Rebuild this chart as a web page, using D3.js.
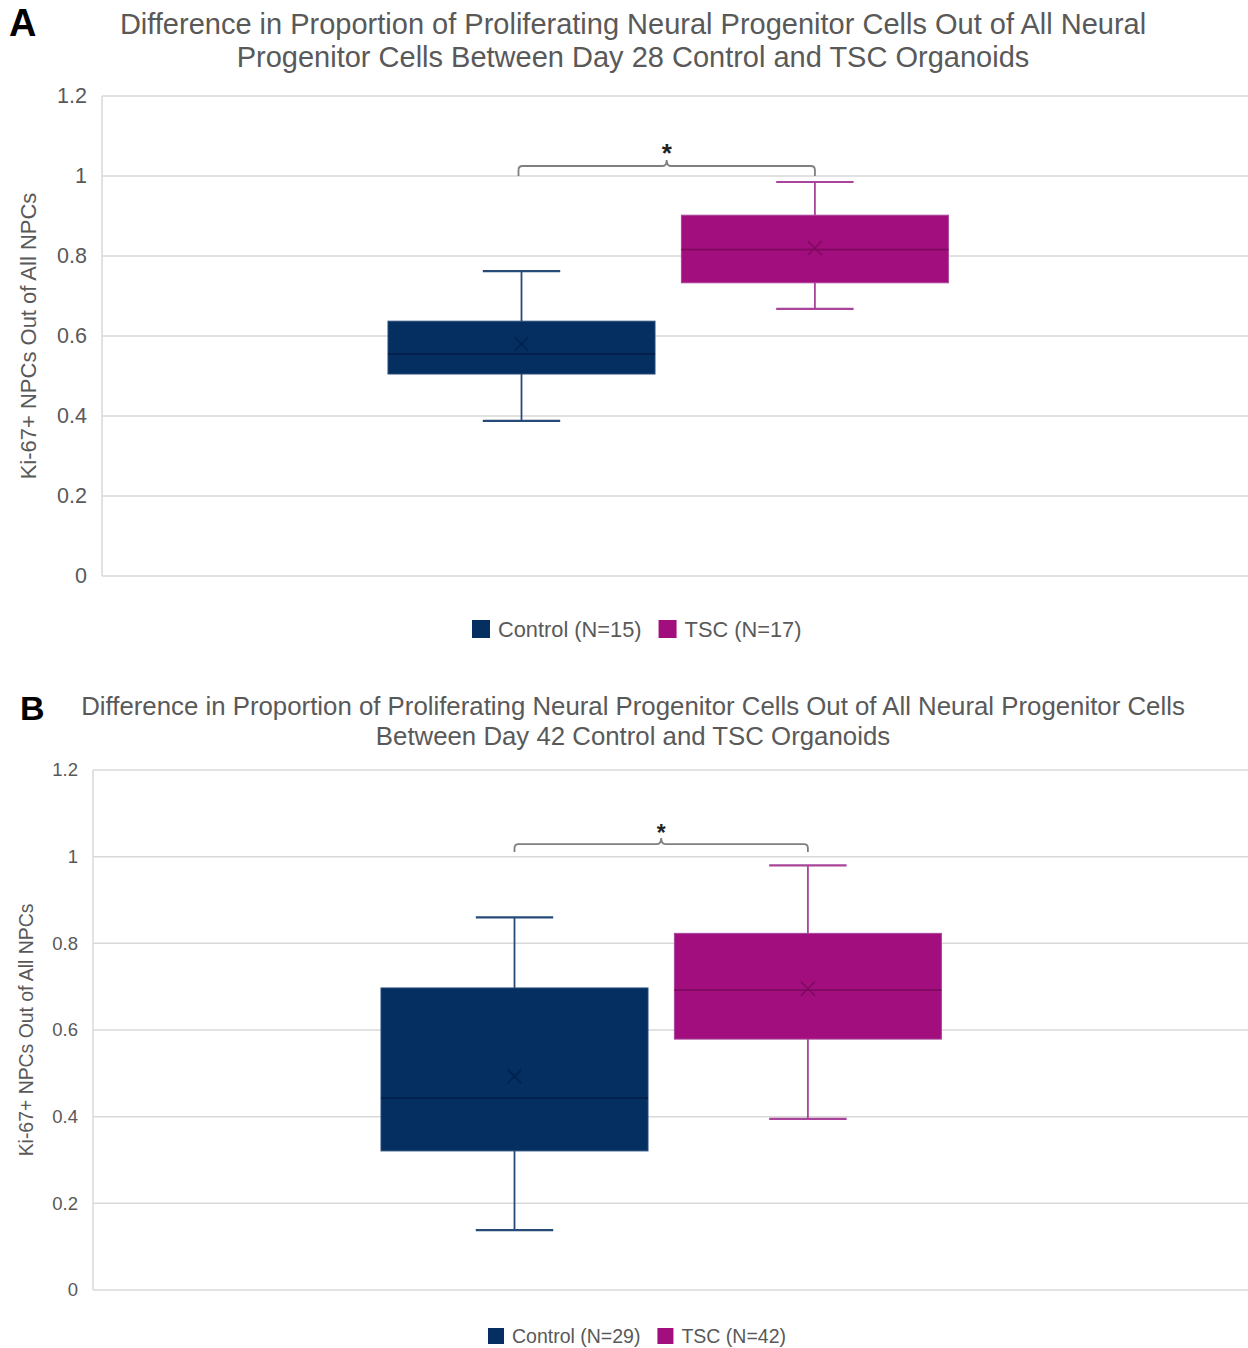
<!DOCTYPE html>
<html>
<head>
  <meta charset="utf-8">
  <title>Ki-67+ NPCs - Day 28 / Day 42</title>
  <script src="https://d3js.org/d3.v7.min.js"></script>
  <style>
    body { margin: 0; background: #fff; }
    text { font-family: "Liberation Sans", Arial, sans-serif; }
  </style>
</head>
<body>
  <script>
    // series shared by both panels
    var groups = ['Control', 'TSC'];
    var yTicks = [0, 0.2, 0.4, 0.6, 0.8, 1, 1.2];

    // Day 28 (panel A): min, q1, median, q3, max, mean
    var day28Min = [0.388, 0.668];
    var day28Q1 = [0.505, 0.733];
    var day28Median = [0.555, 0.816];
    var day28Q3 = [0.637, 0.902];
    var day28Max = [0.762, 0.985];
    var day28Mean = [0.580, 0.820];
    var day28N = [15, 17];

    // Day 42 (panel B)
    var day42Min = [0.138, 0.395];
    var day42Q1 = [0.321, 0.579];
    var day42Median = [0.443, 0.692];
    var day42Q3 = [0.697, 0.823];
    var day42Max = [0.860, 0.980];
    var day42Mean = [0.493, 0.695];
    var day42N = [29, 42];

    var fills = { Control: '#052f60', TSC: '#a20e7e' };
    var whiskerCol = { Control: '#274b78', TSC: '#a8449a' };
    var medianCol = { Control: '#03214a', TSC: '#7e0a5f' };

    var svg = d3.select('body').append('svg')
      .attr('width', 1248)
      .attr('height', 1348);

    function drawPanel(opt) {
      var g = svg.append('g');
      var y = d3.scaleLinear().domain([0, 1.2]).range([opt.bottom, opt.top]);
      var x = d3.scaleBand().domain(groups)
        .range([opt.boxLeft, opt.boxRight])
        .paddingInner(0.09).paddingOuter(0);

      // gridlines
      g.append('g').selectAll('line').data(yTicks).join('line')
        .attr('x1', opt.left).attr('x2', opt.right)
        .attr('y1', function(d) { return y(d); })
        .attr('y2', function(d) { return y(d); })
        .attr('stroke', '#d9d9d9').attr('stroke-width', 1.5);
      g.append('line')
        .attr('x1', opt.left).attr('x2', opt.left)
        .attr('y1', opt.top).attr('y2', opt.bottom)
        .attr('stroke', '#d9d9d9').attr('stroke-width', 1.5);

      // y axis labels via d3 axis
      var axis = g.append('g')
        .attr('transform', 'translate(' + opt.left + ',0)')
        .call(d3.axisLeft(y).tickValues(yTicks).tickSize(0).tickPadding(opt.tickPad)
          .tickFormat(function(d) { return String(d); }));
      axis.select('.domain').remove();
      axis.selectAll('text')
        .attr('fill', '#595959')
        .style('font-size', opt.tickSize + 'px')
        .style('font-family', '"Liberation Sans", Arial, sans-serif');

      // axis title
      g.append('text')
        .attr('transform', 'translate(' + opt.axisTitleX + ',' + ((opt.top + opt.bottom) / 2) + ') rotate(-90)')
        .attr('text-anchor', 'middle')
        .attr('fill', '#595959')
        .style('font-size', opt.axisTitleSize + 'px')
        .text('Ki-67+ NPCs Out of All NPCs');

      // boxes
      var cap = x.bandwidth() * 0.29;
      groups.forEach(function(k, i) {
        var cx = x(k) + x.bandwidth() / 2;
        var bg = g.append('g');
        bg.append('line')
          .attr('x1', cx).attr('x2', cx)
          .attr('y1', y(opt.max[i])).attr('y2', y(opt.q3[i]))
          .attr('stroke', whiskerCol[k]).attr('stroke-width', 1.8);
        bg.append('line')
          .attr('x1', cx).attr('x2', cx)
          .attr('y1', y(opt.q1[i])).attr('y2', y(opt.min[i]))
          .attr('stroke', whiskerCol[k]).attr('stroke-width', 1.8);
        [opt.max[i], opt.min[i]].forEach(function(v) {
          bg.append('line')
            .attr('x1', cx - cap / 2).attr('x2', cx + cap / 2)
            .attr('y1', y(v)).attr('y2', y(v))
            .attr('stroke', whiskerCol[k]).attr('stroke-width', 2.2);
        });
        bg.append('rect')
          .attr('x', x(k)).attr('width', x.bandwidth())
          .attr('y', y(opt.q3[i])).attr('height', y(opt.q1[i]) - y(opt.q3[i]))
          .attr('fill', fills[k])
          .attr('stroke', whiskerCol[k]).attr('stroke-width', 1);
        bg.append('line')
          .attr('x1', x(k)).attr('x2', x(k) + x.bandwidth())
          .attr('y1', y(opt.median[i])).attr('y2', y(opt.median[i]))
          .attr('stroke', medianCol[k]).attr('stroke-width', 1.8);
        var m = y(opt.mean[i]), s = 7;
        bg.append('path')
          .attr('d', 'M' + (cx - s) + ',' + (m - s) + 'L' + (cx + s) + ',' + (m + s) +
                     'M' + (cx - s) + ',' + (m + s) + 'L' + (cx + s) + ',' + (m - s))
          .attr('stroke', medianCol[k]).attr('stroke-width', 1.5).attr('fill', 'none');
      });

      // significance bracket
      var c0 = x('Control') + x.bandwidth() / 2 - opt.bracketShift;
      var c1 = x('TSC') + x.bandwidth() / 2;
      var by = y(opt.bracketAt), mid = (c0 + c1) / 2, r = 4;
      g.append('path')
        .attr('d', 'M' + c0 + ',' + (by + opt.bracketDrop) +
          'L' + c0 + ',' + (by + r) + 'Q' + c0 + ',' + by + ' ' + (c0 + r) + ',' + by +
          'L' + (mid - r) + ',' + by + 'Q' + mid + ',' + by + ' ' + mid + ',' + (by - r * 1.5) +
          'Q' + mid + ',' + by + ' ' + (mid + r) + ',' + by +
          'L' + (c1 - r) + ',' + by + 'Q' + c1 + ',' + by + ' ' + c1 + ',' + (by + r) +
          'L' + c1 + ',' + (by + opt.bracketDrop))
        .attr('fill', 'none').attr('stroke', '#7f7f7f').attr('stroke-width', 1.8);
      g.append('text')
        .attr('x', mid).attr('y', by - opt.starGap)
        .attr('text-anchor', 'middle')
        .attr('fill', '#222')
        .attr('font-weight', 'bold')
        .style('font-size', opt.starSize + 'px')
        .text('*');

      // title
      var t = g.append('text')
        .attr('text-anchor', 'middle')
        .attr('fill', '#595959')
        .style('font-size', opt.titleSize + 'px');
      opt.title.forEach(function(line, i) {
        t.append('tspan').attr('x', opt.titleX).attr('y', opt.titleY + i * opt.titleLead).text(line);
      });

      // panel letter
      g.append('text')
        .attr('x', opt.letterX).attr('y', opt.letterY)
        .attr('font-weight', 'bold')
        .attr('fill', '#000')
        .style('font-size', opt.letterSize + 'px')
        .text(opt.letter);

      // legend
      var lg = g.append('g');
      var lx = opt.legendX;
      groups.forEach(function(k, i) {
        lg.append('rect')
          .attr('x', lx).attr('y', opt.legendY - opt.sq / 2)
          .attr('width', opt.sq).attr('height', opt.sq)
          .attr('fill', fills[k]);
        var txt = lg.append('text')
          .attr('x', lx + opt.sq + 8).attr('y', opt.legendY)
          .attr('dy', '0.35em')
          .attr('fill', '#595959')
          .style('font-size', opt.legendSize + 'px')
          .text(k + ' (N=' + opt.n[i] + ')');
        lx += opt.sq + 8 + txt.node().getComputedTextLength() + 17;
      });
    }

    drawPanel({
      letter: 'A', letterX: 9, letterY: 36, letterSize: 38,
      title: ['Difference in Proportion of Proliferating Neural Progenitor Cells Out of All Neural',
              'Progenitor Cells Between Day 28 Control and TSC Organoids'],
      titleX: 633, titleY: 34, titleLead: 33, titleSize: 29,
      top: 96, bottom: 576, left: 102, right: 1248,
      boxLeft: 388, boxRight: 948.4,
      tickPad: 15, tickSize: 21.5, axisTitleX: 36, axisTitleSize: 22,
      min: day28Min, q1: day28Q1, median: day28Median, q3: day28Q3, max: day28Max, mean: day28Mean,
      n: day28N,
      bracketAt: 1.025, bracketDrop: 10, bracketShift: 3, starGap: 4, starSize: 26,
      legendX: 472, legendY: 629, sq: 18, legendSize: 21.8
    });

    drawPanel({
      letter: 'B', letterX: 20, letterY: 720, letterSize: 34,
      title: ['Difference in Proportion of Proliferating Neural Progenitor Cells Out of All Neural Progenitor Cells',
              'Between Day 42 Control and TSC Organoids'],
      titleX: 633, titleY: 715, titleLead: 30, titleSize: 25.8,
      top: 770, bottom: 1290, left: 93, right: 1248,
      boxLeft: 381, boxRight: 941.4,
      tickPad: 15, tickSize: 18.5, axisTitleX: 33, axisTitleSize: 19.4,
      min: day42Min, q1: day42Q1, median: day42Median, q3: day42Q3, max: day42Max, mean: day42Mean,
      n: day42N,
      bracketAt: 1.029, bracketDrop: 8, bracketShift: 0, starGap: 3, starSize: 23,
      legendX: 488, legendY: 1336, sq: 16, legendSize: 19.5
    });
  </script>
</body>
</html>
